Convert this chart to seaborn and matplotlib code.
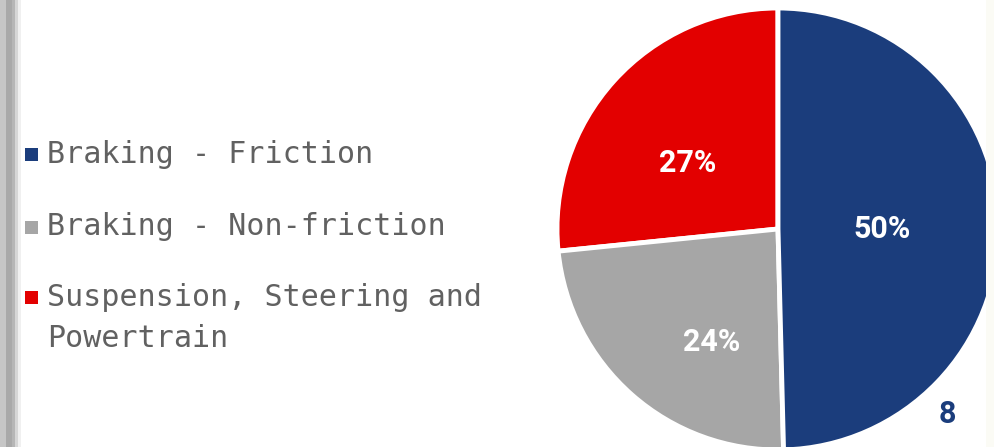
import matplotlib
matplotlib.use("Agg")
import matplotlib.pyplot as plt
from matplotlib.patches import Rectangle
import seaborn as sns

# ---- data ----
categories = ["Suspension, Steering and\nPowertrain", "Braking - Non-friction", "Braking - Friction"]
values = [26.6, 23.8, 49.6]
colors = ["#E30000", "#A6A6A6", "#1B3D7C"]
legend_order = [2, 1, 0]
page_number = "8"

sns.set_theme(style="white")
plt.rcParams["font.family"] = ["DejaVu Sans"]

W, H = 994, 447
fig = plt.figure(figsize=(W / 100, H / 100), dpi=100)
fig.patch.set_facecolor("white")

# pie axes
cx, cy, r = 778, 229, 221
ax = fig.add_axes([(cx - r) / W, (H - cy - r) / H, 2 * r / W, 2 * r / H])
wedges, texts, autotexts = ax.pie(
    values, colors=colors, startangle=90, counterclock=True,
    autopct="%.0f%%", pctdistance=0.5,
    wedgeprops=dict(edgecolor="white", linewidth=3.5),
    textprops=dict(color="white", fontsize=22, fontweight="bold", family=["Roboto", "DejaVu Sans"]),
)
label_pos = [(-0.407, 0.299), (-0.299, -0.511), (0.47, 0.0)]
for t, p in zip(autotexts, label_pos):
    t.set_position(p)
    t.set_ha("center")
    t.set_va("center")
ax.set_xlim(-1, 1)
ax.set_ylim(-1, 1)
ax.set_aspect("equal")
ax.axis("off")

# left border band
band = [(0, 6, "#c6c6c6"), (6, 12, "#a9a9a9"), (12, 15, "#b6b6b6"), (15, 18, "#d6d6d6"), (18, 21, "#f0f0f0")]
for x0, x1, c in band:
    fig.patches.append(Rectangle((x0 / W, 0), (x1 - x0) / W, 1, transform=fig.transFigure,
                                 facecolor=c, edgecolor="none", zorder=0))
# faint right edge
fig.patches.append(Rectangle((986 / W, 0), 8 / W, 1, transform=fig.transFigure,
                             facecolor="#fbfbf5", edgecolor="none", zorder=0))

# legend (manual)
mono = ["DejaVu Sans Mono"]
text_color = "#616161"
square_y = [154, 227, 297]
baselines = [[163], [235], [306, 347]]
for k, idx in enumerate(legend_order):
    sy = square_y[k]
    fig.patches.append(Rectangle((24.5 / W, 1 - (sy + 6.5) / H), 13 / W, 13 / H,
                                 transform=fig.transFigure, facecolor=colors[idx],
                                 edgecolor="none", zorder=3))
    lines = categories[idx].split("\n")
    for line, b in zip(lines, baselines[k]):
        fig.text(47 / W, 1 - b / H, line, family=mono, fontsize=21.6,
                 color=text_color, ha="left", va="baseline")

# page number
fig.text(947 / W, 1 - 414 / H, page_number, fontsize=22, fontweight="bold",
         color="#1B3D7C", ha="center", va="center", family=["Roboto", "DejaVu Sans"])

fig.savefig("out.png", dpi=100, facecolor="white")
